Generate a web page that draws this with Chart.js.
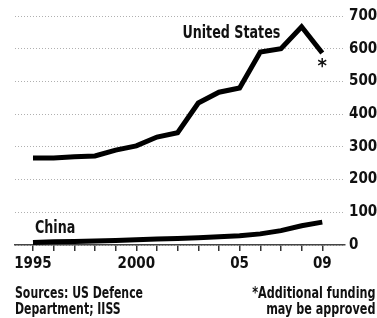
<!DOCTYPE html>
<html><head><meta charset="utf-8">
<script src="https://cdn.jsdelivr.net/npm/chart.js@4/dist/chart.umd.min.js"></script>
<style>
html,body{margin:0;padding:0;background:#fff;}
#wrap{position:relative;width:377px;height:318px;overflow:hidden;}
canvas{position:absolute;left:0;top:0;}
.note{position:absolute;font-family:"DejaVu Sans Condensed","DejaVu Sans",sans-serif;font-weight:bold;font-size:15px;line-height:16px;color:#111;white-space:nowrap;}
</style></head>
<body><div id="wrap"><canvas id="c" width="377" height="318"></canvas>
<div class="note" style="left:15px;top:285px;transform:scaleX(0.81);transform-origin:left top;">Sources: US Defence<br>Department; IISS</div>
<div class="note" style="right:2px;top:285px;text-align:right;transform:scaleX(0.83);transform-origin:right top;">*Additional funding<br>may be approved</div>
</div>
<script>
const years = [1995,1996,1997,1998,1999,2000,2001,2002,2003,2004,2005,2006,2007,2008,2009];
const unitedStates = [266,266,270,272,290,303,330,343,434,467,480,590,600,667,587];
const china = [8,10,11,12,14,16,18,20,22,25,28,34,44,59,70];
const yTicks = [0,100,200,300,400,500,600,700];
const xLabels = {1995:'1995',2000:'2000',2005:'05',2009:'09'};
const FONT = '"DejaVu Sans Condensed","DejaVu Sans",sans-serif';

function squeezedText(ctx, text, px, py, sx){
  ctx.save();
  ctx.translate(px, py);
  ctx.scale(sx, 1);
  ctx.fillText(text, 0, 0);
  ctx.restore();
}

const labelsPlugin = {
  id:'labels',
  afterDatasetsDraw(chart){
    const {ctx, scales:{x,y}} = chart;
    ctx.save();
    ctx.fillStyle='#111';
    ctx.font='bold 17px '+FONT;
    ctx.textAlign='center'; ctx.textBaseline='middle';
    squeezedText(ctx, 'United States', x.getPixelForValue(2004.6), y.getPixelForValue(645), 0.83);
    squeezedText(ctx, 'China', x.getPixelForValue(1996.07), y.getPixelForValue(51), 0.83);
    ctx.font='bold 20px '+FONT;
    ctx.fillText('*', x.getPixelForValue(2009), y.getPixelForValue(545));
    ctx.restore();
  }
};

new Chart(document.getElementById('c'), {
  type:'line',
  data:{datasets:[
    {data: years.map((yr,i)=>({x:yr,y:unitedStates[i]})), borderColor:'#000', borderWidth:5, pointRadius:0, tension:0, borderJoinStyle:'miter'},
    {data: years.map((yr,i)=>({x:yr,y:china[i]})), borderColor:'#000', borderWidth:5, pointRadius:0, tension:0}
  ]},
  options:{
    responsive:false, animation:false,
    layout:{padding:{left:15,top:16,right:0,bottom:42}},
    plugins:{legend:{display:false}, tooltip:{enabled:false}},
    scales:{
      x:{type:'linear', min:1994.13, max:2010.1, afterBuildTicks(s){ s.ticks = years.map(v=>({value:v})); },
        afterFit(a){ a.height = 31; },
        grid:{drawOnChartArea:false, drawTicks:true, tickLength:6, color:'#333', lineWidth:1.5},
        border:{display:true, color:'#444', width:1.5},
        ticks:{autoSkip:false, maxRotation:0, padding:4, color:'#111', font:{family:FONT, weight:'bold', size:15},
          callback:(v)=> xLabels[v] || ''}
      },
      y:{position:'right', min:0, max:700, afterBuildTicks(s){ s.ticks = yTicks.map(v=>({value:v})); },
        afterFit(a){ a.width = 32; },
        grid:{drawTicks:false, color:'#b0b0b0', lineWidth:1},
        border:{display:false, dash:[1,2]},
        ticks:{padding:4, color:'#111', font:{family:FONT, weight:'bold', size:15}}
      }
    }
  },
  plugins:[labelsPlugin]
});
</script></body></html>
